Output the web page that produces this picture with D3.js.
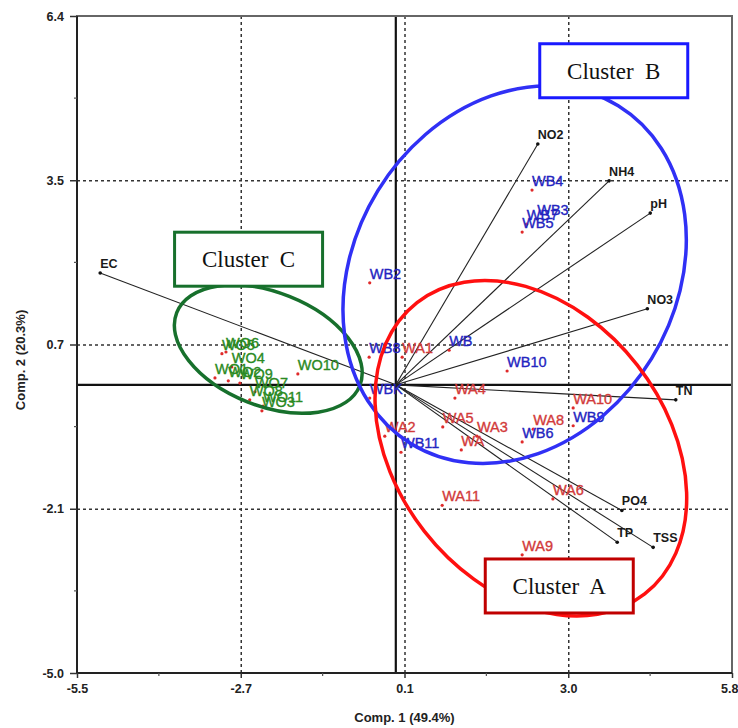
<!DOCTYPE html>
<html>
<head>
<meta charset="utf-8">
<script src="https://cdn.jsdelivr.net/npm/d3@7"></script>
<style>
  body { margin: 0; background: #fff; }
  .tick text { font-family: "Liberation Sans Narrow", "Liberation Sans", Arial, sans-serif; font-weight: bold; font-size: 12.5px; fill: #222; }
  .axisTitle { font-family: "Liberation Sans Narrow", "Liberation Sans", Arial, sans-serif; font-weight: bold; font-size: 13px; fill: #222; }
  .grid line { stroke: #333; stroke-width: 1.4; stroke-dasharray: 3,3; }
  .grid path { display: none; }
</style>
</head>
<body>
<div id="my_dataviz"></div>
<script>
// axis ticks (the PCA program prints rounded values)
var xTicks = [-5.5, -2.675, 0.15, 2.975, 5.8];
var xTickLabels = ["-5.5", "-2.7", "0.1", "3.0", "5.8"];
var yTicks = [-5.0, -2.15, 0.7, 3.55, 6.4];
var yTickLabels = ["-5.0", "-2.1", "0.7", "3.5", "6.4"];

// loadings (variables)
var varNames = ["EC", "NO2", "NH4", "pH", "NO3", "TN", "PO4", "TP", "TSS"];
var varX = [-5.10, 2.45, 3.68, 4.39, 4.34, 4.83, 3.90, 3.82, 4.44];
var varY = [1.94, 4.18, 3.54, 2.98, 1.32, -0.26, -2.18, -2.73, -2.82];

// scores - cluster A
var aNames = ["WA1", "WA2", "WA3", "WA4", "WA5", "WA6", "WA", "WA8", "WA9", "WA10", "WA11"];
var aX = [0.11, -0.19, 1.40, 1.02, 0.81, 2.71, 1.13, 2.37, 2.18, 3.06, 0.80];
var aY = [0.48, -0.89, -0.89, -0.23, -0.73, -1.98, -1.13, -0.77, -2.95, -0.40, -2.09];

// scores - cluster B
var bNames = ["WBK", "WB2", "WB3", "WB4", "WB5", "WB6", "WB7", "WB8", "WB9", "WB10", "WB11", "WB"];
var bX = [-0.45, -0.45, 2.44, 2.35, 2.18, 2.18, 2.26, -0.46, 3.06, 1.92, 0.09, 0.92];
var bY = [-0.23, 1.77, 2.88, 3.38, 2.65, -0.99, 2.79, 0.48, -0.71, 0.24, -1.17, 0.60];

// scores - cluster C
var cNames = ["WO1", "WO2", "WO3", "WO4", "WO5", "WO6", "WO7", "WO8", "WO9", "WO10", "WO11"];
var cX = [-3.12, -2.89, -2.31, -2.83, -3.00, -2.93, -2.43, -2.52, -2.69, -1.69, -2.29];
var cY = [0.12, 0.07, -0.45, 0.31, 0.54, 0.57, -0.12, -0.26, 0.03, 0.19, -0.37];

// cluster outlines (data units) and label boxes
var clusterNames = ["Cluster\u00a0 C", "Cluster\u00a0 B", "Cluster\u00a0 A"];
var clusterCx = [-2.20, 2.05, 2.33];
var clusterCy = [0.62, 1.91, -1.10];
var clusterRx = [1.70, 2.77, 2.33];
var clusterRy = [0.98, 3.42, 3.19];
var clusterAngle = [21.7, 31.5, -38];
var boxX = [-2.54, 3.76, 2.82];
var boxY = [2.18, 5.45, -3.49];

var ellipseColors = ["#17702c", "#3030f5", "#ff1010"];
var boxColors = ["#17702c", "#1a1aff", "#c00000"];

var W = 738, H = 728;
var margin = { top: 16, right: 6, bottom: 55, left: 77 };

var svg = d3.select("#my_dataviz")
    .append("svg")
    .attr("width", W)
    .attr("height", H);

var x = d3.scaleLinear().domain([-5.5, 5.8]).range([margin.left, W - margin.right]);
var y = d3.scaleLinear().domain([-5.0, 6.4]).range([H - margin.bottom, margin.top]);
var unit = x(1) - x(0);

/*********************
 * GRIDLINES
 *********************/
svg.append("g")
    .attr("class", "grid")
    .attr("transform", "translate(0," + y(-5.0) + ")")
    .call(d3.axisBottom(x).tickValues(xTicks.slice(1, 4)).tickSize(-(y(-5.0) - y(6.4))).tickFormat(""));

svg.append("g")
    .attr("class", "grid")
    .attr("transform", "translate(" + x(-5.5) + ",0)")
    .call(d3.axisLeft(y).tickValues(yTicks.slice(1, 4)).tickSize(-(x(5.8) - x(-5.5))).tickFormat(""));

// zero lines
svg.append("line")
    .attr("x1", x(0)).attr("x2", x(0))
    .attr("y1", y(6.4)).attr("y2", y(-5.0))
    .style("stroke", "#111").style("stroke-width", 2.2);
svg.append("line")
    .attr("x1", x(-5.5)).attr("x2", x(5.8))
    .attr("y1", y(0)).attr("y2", y(0))
    .style("stroke", "#111").style("stroke-width", 2.2);

// frame
svg.append("rect")
    .attr("x", x(-5.5)).attr("y", y(6.4))
    .attr("width", x(5.8) - x(-5.5))
    .attr("height", y(-5.0) - y(6.4))
    .style("fill", "none").style("stroke", "#666").style("stroke-width", 2);
svg.append("line")
    .attr("x1", x(-5.5)).attr("x2", x(-5.5)).attr("y1", y(6.4)).attr("y2", y(-5.0))
    .style("stroke", "#222").style("stroke-width", 2);
svg.append("line")
    .attr("x1", x(-5.5)).attr("x2", x(5.8)).attr("y1", y(-5.0)).attr("y2", y(-5.0))
    .style("stroke", "#222").style("stroke-width", 2);

/*********************
 * AXES
 *********************/
var xAxis = svg.append("g")
    .attr("transform", "translate(0," + y(-5.0) + ")")
    .call(d3.axisBottom(x).tickValues(xTicks).tickSize(5).tickPadding(6)
        .tickFormat(function (d, i) { return xTickLabels[i]; }));
xAxis.select(".domain").remove();
// last label sits against the window edge
xAxis.selectAll(".tick text")
    .filter(function (d, i) { return i === xTicks.length - 1; })
    .attr("text-anchor", "end")
    .attr("x", 6);

var yAxis = svg.append("g")
    .attr("transform", "translate(" + x(-5.5) + ",0)")
    .call(d3.axisLeft(y).tickValues(yTicks).tickSize(7).tickPadding(6)
        .tickFormat(function (d, i) { return yTickLabels[i]; }));
yAxis.select(".domain").remove();
svg.selectAll(".tick line").style("stroke", "#333").style("stroke-width", 1.5);

// minor ticks
var xMinor = xTicks.slice(0, 4).map(function (d, i) { return (d + xTicks[i + 1]) / 2; });
var yMinor = yTicks.slice(0, 4).map(function (d, i) { return (d + yTicks[i + 1]) / 2; });
svg.selectAll("xminor").data(xMinor).enter().append("line")
    .attr("x1", function (d) { return x(d); }).attr("x2", function (d) { return x(d); })
    .attr("y1", y(-5.0)).attr("y2", y(-5.0) + 3)
    .style("stroke", "#555").style("stroke-width", 1.2);
svg.selectAll("yminor").data(yMinor).enter().append("line")
    .attr("y1", function (d) { return y(d); }).attr("y2", function (d) { return y(d); })
    .attr("x1", x(-5.5)).attr("x2", x(-5.5) - 3)
    .style("stroke", "#555").style("stroke-width", 1.2);

svg.append("text")
    .attr("class", "axisTitle")
    .attr("x", (x(-5.5) + x(5.8)) / 2)
    .attr("y", 722)
    .style("text-anchor", "middle")
    .text("Comp. 1 (49.4%)");

svg.append("text")
    .attr("class", "axisTitle")
    .attr("transform", "translate(25," + 360 + ") rotate(-90)")
    .style("text-anchor", "middle")
    .text("Comp. 2 (20.3%)");

/*********************
 * LOADING VECTORS
 *********************/
svg.selectAll("vecs")
    .data(varNames)
    .enter()
    .append("line")
    .attr("x1", x(0)).attr("y1", y(0))
    .attr("x2", function (d, i) { return x(varX[i]); })
    .attr("y2", function (d, i) { return y(varY[i]); })
    .style("stroke", "#222").style("stroke-width", 1.1);

svg.selectAll("vecdots")
    .data(varNames)
    .enter()
    .append("circle")
    .attr("cx", function (d, i) { return x(varX[i]); })
    .attr("cy", function (d, i) { return y(varY[i]); })
    .attr("r", 1.8)
    .style("fill", "#111");

svg.selectAll("veclabels")
    .data(varNames)
    .enter()
    .append("text")
    .attr("x", function (d, i) { return x(varX[i]); })
    .attr("y", function (d, i) { return y(varY[i]) - 5; })
    .style("font-family", "'Liberation Sans', Arial, sans-serif")
    .style("font-weight", "bold")
    .style("font-size", "12.5px")
    .style("fill", "#1a1a1a")
    .text(function (d) { return d; });

/*********************
 * SAMPLE SCORES
 *********************/
function drawScores(names, xs, ys, color) {
    svg.selectAll(null)
        .data(names)
        .enter()
        .append("circle")
        .attr("cx", function (d, i) { return x(xs[i]); })
        .attr("cy", function (d, i) { return y(ys[i]); })
        .attr("r", 1.6)
        .style("fill", "#e02a2a");

    svg.selectAll(null)
        .data(names)
        .enter()
        .append("text")
        .attr("x", function (d, i) { return x(xs[i]); })
        .attr("y", function (d, i) { return y(ys[i]) - 4; })
        .style("font-family", "'Liberation Sans', Arial, sans-serif")
        .style("font-size", "14.5px")
        .style("fill", color)
        .style("stroke", color)
        .style("stroke-width", 0.35)
        .text(function (d) { return d; });
}
drawScores(cNames, cX, cY, "#2a8a22");
drawScores(aNames, aX, aY, "#d23a3a");
drawScores(bNames, bX, bY, "#2424c0");

/*********************
 * CLUSTERS
 *********************/
svg.selectAll("clusterEllipses")
    .data(clusterNames)
    .enter()
    .append("ellipse")
    .attr("transform", function (d, i) {
        return "translate(" + x(clusterCx[i]) + "," + y(clusterCy[i]) + ") rotate(" + clusterAngle[i] + ")";
    })
    .attr("rx", function (d, i) { return clusterRx[i] * unit; })
    .attr("ry", function (d, i) { return clusterRy[i] * unit; })
    .style("fill", "none")
    .style("stroke", function (d, i) { return ellipseColors[i]; })
    .style("stroke-width", 3.5);

var boxW = 148, boxH = 54;
var boxes = svg.selectAll("clusterBoxes")
    .data(clusterNames)
    .enter()
    .append("g")
    .attr("transform", function (d, i) { return "translate(" + x(boxX[i]) + "," + y(boxY[i]) + ")"; });

boxes.append("rect")
    .attr("x", -boxW / 2).attr("y", -boxH / 2)
    .attr("width", boxW).attr("height", boxH)
    .style("fill", "#fff")
    .style("stroke", function (d, i) { return boxColors[i]; })
    .style("stroke-width", 3);

boxes.append("text")
    .attr("x", 0).attr("y", 8)
    .style("text-anchor", "middle")
    .style("font-family", "'Liberation Serif', 'Times New Roman', serif")
    .style("font-size", "23px")
    .style("fill", "#111")
    .text(function (d) { return d; });
</script>
</body>
</html>
